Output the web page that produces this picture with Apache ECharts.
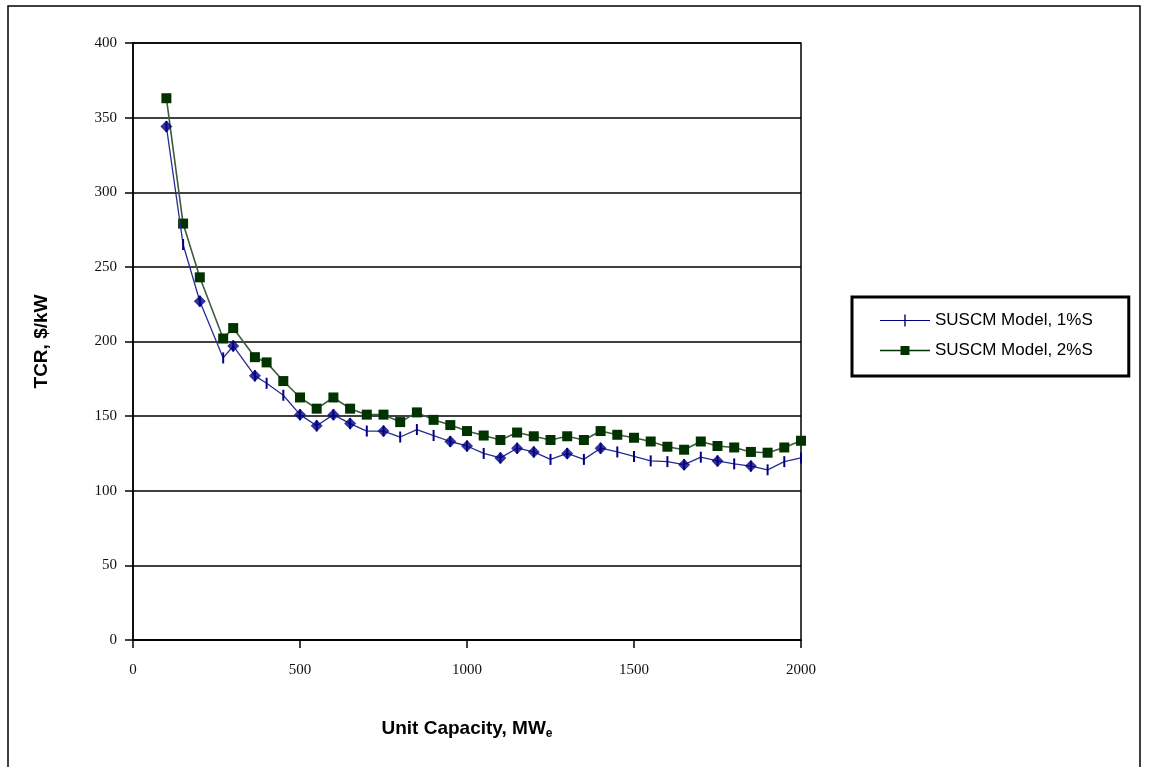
<!DOCTYPE html>
<html>
<head>
<meta charset="utf-8">
<script src="https://cdn.jsdelivr.net/npm/echarts@6/dist/echarts.min.js"></script>
<style>
  html, body { margin: 0; padding: 0; background: #fff; }
  #chart { width: 1149px; height: 767px; }
</style>
</head>
<body>
<div id="chart"></div>
<script>
// unit capacity, MWe
var capacity = [100, 150, 200, 270, 300, 365, 400, 450, 500, 550, 600, 650, 700, 750, 800, 850, 900, 950, 1000,
  1050, 1100, 1150, 1200, 1250, 1300, 1350, 1400, 1450, 1500, 1550, 1600, 1650, 1700, 1750, 1800, 1850, 1900, 1950, 2000];
// TCR, $/kW  - 1%S
var tcr1 = [344, 265, 227, 189, 197, 177, 172, 164, 151, 143.5, 151, 145, 140, 140, 136, 141, 137, 133, 130,
  125, 122, 128.5, 126, 121, 125, 121, 128.5, 126, 123, 120, 119.5, 117.5, 122.5, 120, 118, 116.5, 114, 119.5, 122];
// TCR, $/kW  - 2%S
var tcr2 = [363, 279, 243, 202, 209, 189.5, 186, 173.5, 162.5, 155, 162.5, 155, 151, 151, 146, 152.5, 147.5, 144, 140,
  137, 134, 139, 136.5, 134, 136.5, 134, 140, 137.5, 135.5, 133, 129.5, 127.5, 133, 130, 129, 126, 125.5, 129, 133.5];
// 1%S points drawn with a diamond
var diamondAt = [100, 200, 300, 365, 500, 550, 600, 650, 750, 950, 1000, 1100, 1150, 1200, 1300, 1400, 1650, 1750, 1850];

var names = ['SUSCM Model, 1%S', 'SUSCM Model, 2%S'];

var s1 = capacity.map(function (c, i) { return [c, tcr1[i]]; });
var s2 = capacity.map(function (c, i) { return [c, tcr2[i]]; });
var dia = s1.filter(function (p) { return diamondAt.indexOf(p[0]) >= 0; });

var myChart = echarts.init(document.getElementById('chart'));

var serif = '"Liberation Serif", "DejaVu Serif", serif';
var sans = '"Liberation Sans", Arial, sans-serif';

var option = {
  animation: false,
  graphic: [{
    type: 'rect',
    shape: { x: 8, y: 6, width: 1132, height: 800 },
    style: { fill: 'none', stroke: '#000', lineWidth: 1.5 },
    silent: true
  }],
  grid: {
    left: 133, right: 348, top: 43, bottom: 127,
    show: true, borderColor: '#000', borderWidth: 1.5, backgroundColor: 'transparent'
  },
  legend: {
    orient: 'vertical',
    left: 852, top: 297,
    borderColor: '#000', borderWidth: 3,
    padding: [15, 36, 17, 28],
    itemWidth: 50, itemHeight: 12, itemGap: 13,
    textStyle: { fontFamily: sans, fontSize: 17, color: '#000' },
    data: [
      { name: names[0], icon: 'path://M0,5.4 L50,5.4 L50,6.6 L0,6.6 Z M24.3,0 L25.7,0 L25.7,12 L24.3,12 Z' },
      { name: names[1], icon: 'path://M0,5.3 L50,5.3 L50,6.7 L0,6.7 Z M20.5,1.5 L29.5,1.5 L29.5,10.5 L20.5,10.5 Z' }
    ]
  },
  xAxis: {
    type: 'value',
    min: 0, max: 2000, interval: 500,
    name: 'Unit Capacity, MW{sub|e}',
    nameLocation: 'middle',
    nameGap: 78,
    nameTextStyle: {
      fontFamily: sans, fontSize: 19, fontWeight: 'bold', color: '#000',
      rich: { sub: { fontFamily: sans, fontSize: 12, fontWeight: 'bold', color: '#000', verticalAlign: 'bottom', padding: [10, 0, 0, 0] } }
    },
    axisLine: { lineStyle: { color: '#000', width: 1.5 } },
    axisTick: { length: 8, lineStyle: { color: '#000', width: 1.5 } },
    axisLabel: { fontFamily: serif, fontSize: 15, color: '#111', margin: 23, formatter: function (v) { return String(v); } },
    splitLine: { show: false }
  },
  yAxis: {
    type: 'value',
    min: 0, max: 400, interval: 50,
    name: 'TCR, $/kW',
    nameLocation: 'middle',
    nameGap: 82,
    nameTextStyle: { fontFamily: sans, fontSize: 19, fontWeight: 'bold', color: '#000' },
    axisLine: { show: true, lineStyle: { color: '#000', width: 1.5 } },
    axisTick: { show: true, length: 8, lineStyle: { color: '#000', width: 1.5 } },
    axisLabel: { fontFamily: serif, fontSize: 15, color: '#111', margin: 16 },
    splitLine: { show: true, lineStyle: { color: '#000', width: 1.5 } }
  },
  series: [
    {
      name: names[1],
      type: 'line',
      data: s2,
      symbol: 'rect',
      symbolSize: 10,
      lineStyle: { color: '#3d5c3d', width: 1.6 },
      itemStyle: { color: '#003300' },
      z: 3
    },
    {
      name: names[0],
      type: 'line',
      data: s1,
      symbol: 'rect',
      symbolSize: [2, 11],
      lineStyle: { color: '#2a2a96', width: 1.3 },
      itemStyle: { color: '#000080' },
      z: 4
    },
    {
      name: 'diamonds',
      type: 'scatter',
      data: dia,
      symbol: 'diamond',
      symbolSize: 12,
      itemStyle: { color: '#000080' },
      z: 5
    }
  ]
};

myChart.setOption(option);
</script>
</body>
</html>
